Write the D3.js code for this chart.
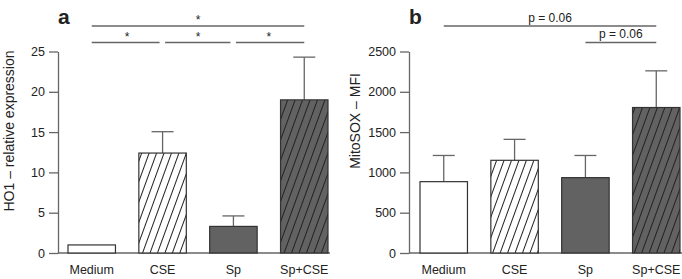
<!DOCTYPE html>
<html>
<head>
<meta charset="utf-8">
<script src="https://cdn.jsdelivr.net/npm/d3@7"></script>
<style>
  body { margin: 0; background: #fff; }
  svg text { font-family: "Liberation Sans", Arial, sans-serif; fill: #222; }
</style>
</head>
<body>
<div id="chart"></div>
<script>
// data
const categories = ["Medium", "CSE", "Sp", "Sp+CSE"];
const hoValues = [1.0, 12.4, 3.3, 19.0];
const hoErrors = [null, 15.05, 4.6, 24.3];
const mitoValues = [885, 1150, 935, 1805];
const mitoErrors = [1210, 1410, 1210, 2260];
const hoTicks = [0, 5, 10, 15, 20, 25];
const mitoTicks = [0, 500, 1000, 1500, 2000, 2500];
// comparisons: [from index, to index, label, row]
const hoComparisons = [[0, 3, "*", 0], [0, 1, "*", 1], [1, 2, "*", 1], [2, 3, "*", 1]];
const mitoComparisons = [[0, 3, "p = 0.06", 0], [2, 3, "p = 0.06", 1]];

const fills = ["#fff", "url(#hatch-white)", "#626262", "url(#hatch-dark)"];

const W = 682, H = 279;
const svg = d3.select("#chart").append("svg")
  .attr("width", W)
  .attr("height", H);

// hatch patterns
const defs = svg.append("defs");
function hatch(id, bg) {
  const p = defs.append("pattern")
    .attr("id", id)
    .attr("patternUnits", "userSpaceOnUse")
    .attr("width", 7)
    .attr("height", 20)
    .attr("patternTransform", "rotate(20)");
  p.append("rect").attr("width", 7).attr("height", 20).attr("fill", bg);
  p.append("line")
    .attr("x1", 3.5).attr("x2", 3.5)
    .attr("y1", 0).attr("y2", 20)
    .attr("stroke", "#222")
    .attr("stroke-width", 1);
}
hatch("hatch-white", "#fff");
hatch("hatch-dark", "#626262");

function panel(opts) {
  const g = svg.append("g");
  const x = d3.scaleBand()
    .domain(categories)
    .range([opts.x0, opts.x1])
    .paddingInner(0.33)
    .paddingOuter(0);
  const y = d3.scaleLinear()
    .domain(opts.domain)
    .range([253, 51.5]);

  // y axis, R style (line spans first to last tick)
  const axis = d3.axisLeft(y)
    .tickValues(opts.ticks)
    .tickFormat(d3.format("d"))
    .tickSize(9)
    .tickPadding(4)
    .tickSizeOuter(0);
  const ag = g.append("g")
    .attr("transform", `translate(${opts.axisX},0)`)
    .call(axis);
  ag.select(".domain").attr("stroke", "#666").attr("stroke-width", 1.3);
  ag.selectAll(".tick line").attr("stroke", "#666").attr("stroke-width", 1.3);
  ag.selectAll(".tick text")
    .style("font-size", "12.5px")
    .attr("fill", "#222");

  // baseline
  g.append("line")
    .attr("x1", opts.axisX)
    .attr("x2", opts.x1 + 2)
    .attr("y1", y(0))
    .attr("y2", y(0))
    .attr("stroke", "#666")
    .attr("stroke-width", 1.3);

  // error bars (upper only)
  const eg = g.append("g");
  categories.forEach((c, i) => {
    const e = opts.errors[i];
    if (e == null) return;
    const cx = x(c) + x.bandwidth() / 2;
    eg.append("line")
      .attr("x1", cx).attr("x2", cx)
      .attr("y1", y(opts.values[i])).attr("y2", y(e))
      .attr("stroke", "#666").attr("stroke-width", 1.3);
    eg.append("line")
      .attr("x1", cx - 11).attr("x2", cx + 11)
      .attr("y1", y(e)).attr("y2", y(e))
      .attr("stroke", "#666").attr("stroke-width", 1.3);
  });

  // bars
  g.selectAll("rect.bar")
    .data(opts.values)
    .join("rect")
    .attr("class", "bar")
    .attr("x", (d, i) => x(categories[i]))
    .attr("y", (d) => y(d))
    .attr("width", x.bandwidth())
    .attr("height", (d) => y(0) - y(d))
    .attr("fill", (d, i) => fills[i])
    .attr("stroke", "#333")
    .attr("stroke-width", 1.2);

  // category labels
  g.selectAll("text.cat")
    .data(categories)
    .join("text")
    .attr("class", "cat")
    .attr("x", (d) => x(d) + x.bandwidth() / 2)
    .attr("y", 274)
    .attr("text-anchor", "middle")
    .style("font-size", "12.5px")
    .text((d) => d);

  // y label
  g.append("text")
    .attr("transform", `translate(${opts.labelX},${opts.labelY}) rotate(-90)`)
    .attr("text-anchor", "middle")
    .style("font-size", "14px")
    .text(opts.ylab);

  // panel letter
  g.append("text")
    .attr("x", opts.axisX)
    .attr("y", 24)
    .style("font-size", "21px")
    .style("font-weight", "bold")
    .attr("fill", "#111")
    .text(opts.letter);

  // significance brackets
  const rowY = [26, 42.5];
  opts.comparisons.forEach(([a, b, lab, row]) => {
    const xa = x(categories[a]) + x.bandwidth() / 2;
    const xb = x(categories[b]) + x.bandwidth() / 2;
    // neighbouring segments in the same row are split by a small gap
    const shrinkA = opts.comparisons.some((c) => c[3] === row && c[1] === a) ? 2.5 : 0;
    const shrinkB = opts.comparisons.some((c) => c[3] === row && c[0] === b) ? 3 : 0;
    g.append("line")
      .attr("x1", xa + shrinkA).attr("x2", xb - shrinkB)
      .attr("y1", rowY[row]).attr("y2", rowY[row])
      .attr("stroke", "#666").attr("stroke-width", 1.3);
    g.append("text")
      .attr("x", (xa + xb) / 2)
      .attr("y", rowY[row] - opts.labelGap)
      .attr("text-anchor", "middle")
      .style("font-size", opts.sigSize)
      .text(lab);
  });
}

panel({
  values: hoValues, errors: hoErrors, domain: [0, 25], ticks: hoTicks,
  x0: 68, x1: 328, axisX: 58, labelX: 13.5, labelY: 131,
  ylab: "HO1 \u2013 relative expression", letter: "a",
  comparisons: hoComparisons, labelGap: 2, sigSize: "12px"
});

panel({
  values: mitoValues, errors: mitoErrors, domain: [0, 2500], ticks: mitoTicks,
  x0: 420, x1: 680, axisX: 409, labelX: 360, labelY: 121,
  ylab: "MitoSOX \u2013 MFI", letter: "b",
  comparisons: mitoComparisons, labelGap: 4.5, sigSize: "12px"
});
</script>
</body>
</html>
